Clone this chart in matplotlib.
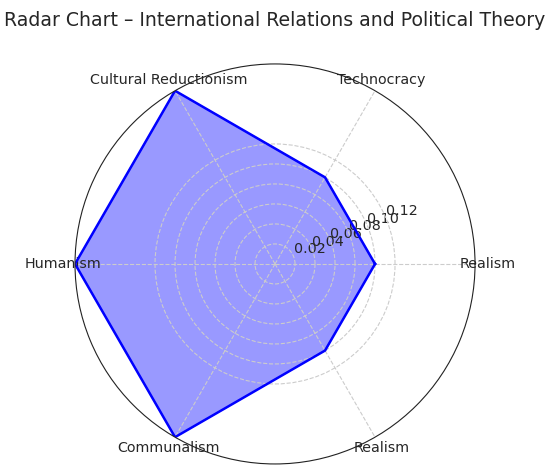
import numpy as np
import matplotlib.pyplot as plt

categories = ['Realism', 'Technocracy', 'Cultural Reductionism', 'Humanism', 'Communalism', 'Realism']
values = [0.10, 0.10, 0.20, 0.20, 0.20, 0.10]
rticks = [0.02, 0.04, 0.06, 0.08, 0.10, 0.12]

angles = np.linspace(0, 2 * np.pi, len(categories), endpoint=False).tolist()
vals = values + values[:1]
angs = angles + angles[:1]

fig = plt.figure(figsize=(5.5, 4.69), dpi=100)
ax = fig.add_axes([0.1364, 0.0107, 0.7273, 0.853], polar=True)

ax.fill(angs, vals, color='blue', alpha=0.4)
ax.plot(angs, vals, color='blue', linewidth=1.8)

ax.set_xticks(angles)
ax.set_xticklabels(categories, fontsize=10.3, color='#262626')
ax.tick_params(axis='x', pad=-1.5)
ax.set_yticks(rticks)
ax.set_yticklabels([f'{t:.2f}' for t in rticks], fontsize=10.3, color='#262626')
ax.set_ylim(0, 0.2)
ax.grid(True, linestyle='--', color='#cccccc', linewidth=0.8)
ax.spines['polar'].set_color('#222222')

fig.text(0.5, 0.957, 'Radar Chart – International Relations and Political Theory',
         ha='center', va='center', fontsize=13.6, color='#262626')

fig.savefig('out.png', dpi=100)
